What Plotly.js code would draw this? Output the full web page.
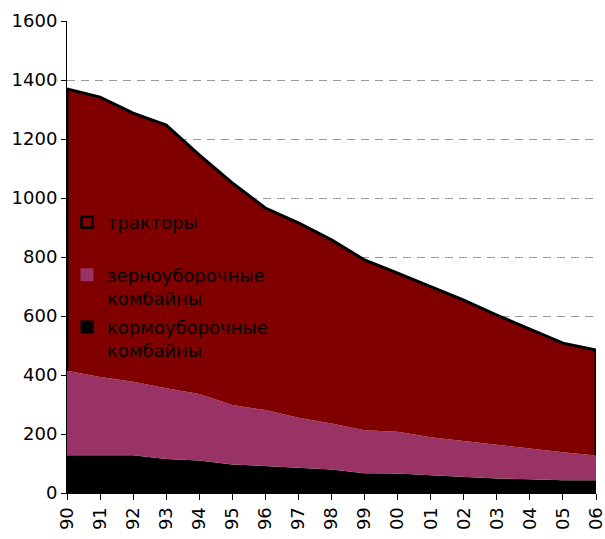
<!DOCTYPE html>
<html><head><meta charset="utf-8">
<script src="https://cdn.plot.ly/plotly-3.0.1.min.js"></script>
<style>body{margin:0;padding:0;background:#fff}</style>
</head><body>
<div id="chart" style="width:605px;height:539px"></div>
<script>
const years = ["90","91","92","93","94","95","96","97","98","99","00","01","02","03","04","05","06"];
// stacked values
const kormo   = [128,128,128,115,110,97,91,86,80,67,66,60,54,49,47,43,43];
const zerno   = [286,265,249,240,226,201,190,169,156,146,142,129,122,114,102,95,84];
const traktor = [956,949,911,892,810,753,685,661,622,577,537,511,478,440,407,370,358];
const names = ["тракторы", "зерноуборочные<br>комбайны", "кормоуборочные<br>комбайны"];
const colors = {tr:"#800000", ze:"#993366", ko:"#000000"};

const pinkTop = kormo.map((v,i)=>v+zerno[i]);
const total = pinkTop.map((v,i)=>v+traktor[i]);
const last = years.length-1;

const traces = [
  {x:years, y:kormo, type:"scatter", mode:"lines", stackgroup:"s", fillcolor:colors.ko,
   line:{width:0, color:colors.ko}, showlegend:false, hoverinfo:"skip"},
  {x:years, y:zerno, type:"scatter", mode:"lines", stackgroup:"s", fillcolor:colors.ze,
   line:{width:0, color:colors.ze}, showlegend:false, hoverinfo:"skip"},
  {x:years, y:traktor, type:"scatter", mode:"lines", stackgroup:"s", fillcolor:colors.tr,
   line:{width:3, color:"#000"}, showlegend:false, hoverinfo:"skip"},
  // edges of the tractor area
  {x:[years[0],years[0],null,years[last],years[last]],
   y:[pinkTop[0],total[0],null,pinkTop[last],total[last]],
   type:"scatter", mode:"lines", line:{width:3,color:"#000"}, showlegend:false, hoverinfo:"skip", cliponaxis:false},
  // legend entries
  {x:[null], y:[null], type:"scatter", mode:"markers", name:names[0]+"<br> ", legendgroup:"a",
   marker:{symbol:"square", size:11, color:colors.tr, line:{width:2.5,color:"#000"}}},
  {x:[null], y:[null], type:"scatter", mode:"markers", name:names[1], legendgroup:"b",
   marker:{symbol:"square", size:13, color:colors.ze, line:{width:0}}},
  {x:[null], y:[null], type:"scatter", mode:"markers", name:names[2], legendgroup:"c",
   marker:{symbol:"square", size:13, color:colors.ko, line:{width:0}}}
];

const layout = {
  width:605, height:539,
  margin:{l:67, r:9, t:21, b:46},
  paper_bgcolor:"#fff", plot_bgcolor:"#fff",
  font:{family:"DejaVu Sans, Verdana, sans-serif", size:18, color:"#000"},
  showlegend:true,
  legend:{x:0.0, xanchor:"left", y:0.612, yanchor:"top", bgcolor:"rgba(0,0,0,0)",
          valign:"top", font:{size:18,color:"#000"}, traceorder:"grouped", tracegroupgap:2.5},
  xaxis:{type:"category", categoryorder:"array", categoryarray:years, range:[0,16],
         showline:true, linecolor:"#000", linewidth:1, ticks:"outside", ticklen:6,
         tickcolor:"#000", tickangle:-90, showgrid:false, zeroline:false,
         tickfont:{size:18}, fixedrange:true},
  yaxis:{range:[0,1600], dtick:200, tick0:0, showline:true, linecolor:"#000", linewidth:1,
         ticks:"outside", ticklen:5, tickcolor:"#000", showgrid:true, gridcolor:"#999",
         griddash:"8px,6px", gridwidth:1, zeroline:false, tickfont:{size:18}, fixedrange:true}
};
Plotly.newPlot("chart", traces, layout, {staticPlot:true, displayModeBar:false});
</script>
</body></html>
